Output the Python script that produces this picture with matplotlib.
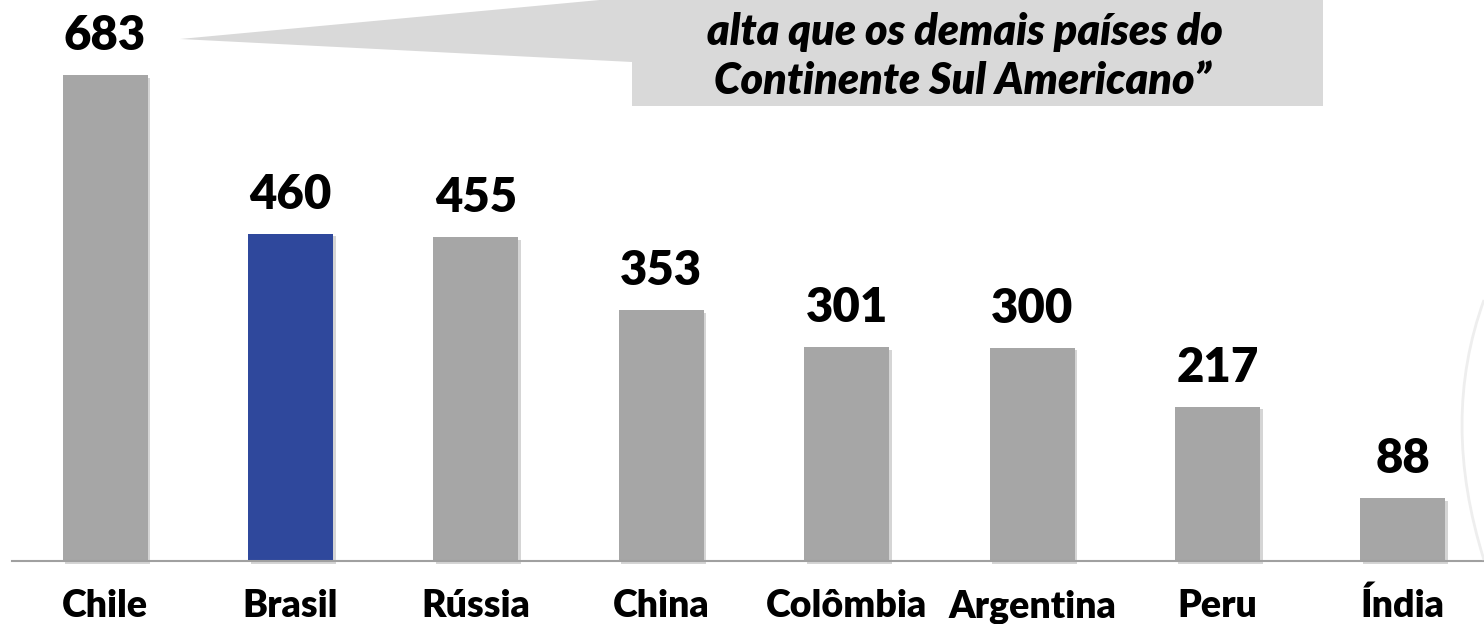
import matplotlib
matplotlib.use("Agg")
import matplotlib.pyplot as plt
from matplotlib.patches import Polygon, PathPatch
from matplotlib.path import Path
import matplotlib.patheffects as pe

categories = ["Chile", "Brasil", "Rússia", "China", "Colômbia", "Argentina", "Peru", "Índia"]
values = [683, 460, 455, 353, 301, 300, 217, 88]
highlight = "Brasil"
callout_lines = ["alta que os demais países do", "Continente Sul Americano”"]

W, H = 1484, 624
fig = plt.figure(figsize=(W / 100, H / 100), dpi=100)
ax = fig.add_axes([0, 0, 1, 1])

base_px = 63           # baseline from bottom, px
scale = 486 / 683      # px per unit
spacing = 185.4
x0 = 105
ax.set_ylim(-base_px / scale, (H - base_px) / scale)
ax.set_xlim(-x0 / spacing, (W - x0) / spacing)
ax.axis("off")

colors = ["#2F489C" if c == highlight else "#A6A6A6" for c in categories]
xs = list(range(len(categories)))
bars = ax.bar(xs, values, width=85 / spacing, color=colors, zorder=3)
for b in bars:
    b.set_path_effects([pe.SimplePatchShadow(offset=(2, -2), shadow_rgbFace="#777777", alpha=0.3),
                        pe.Normal()])

# baseline
ax.plot([(12 - x0) / spacing, (W - x0) / spacing], [0, 0], color="#A0A0A0", lw=1.5, zorder=4)

font = "Lato"
wt = "heavy"
for x, v in zip(xs, values):
    ax.annotate(str(v), (x, v), xytext=(0, 18), textcoords="offset points",
                ha="center", va="baseline", fontsize=34, fontweight=wt,
                family=font, color="black")
for x, c in zip(xs, categories):
    ax.text(x, (7 - base_px) / scale, c, ha="center", va="baseline",
            fontsize=27, fontweight=wt, family=font, color="black")

def fp(x, y):
    return (x / W, 1 - y / H)

# callout
pts = [fp(180, 39), fp(632, -3), fp(1323, -3), fp(1323, 106), fp(632, 106), fp(632, 62)]
poly = Polygon(pts, closed=True, transform=fig.transFigure, facecolor="#D9D9D9",
               edgecolor="none", zorder=1)
fig.patches.append(poly)
fig.text(*fp(965, 45), callout_lines[0], ha="center", va="baseline", fontsize=31,
         fontweight=wt, style="italic", family=font, color="black")
fig.text(*fp(962, 94), callout_lines[1], ha="center", va="baseline", fontsize=31,
         fontweight=wt, style="italic", family=font, color="black")

# faint decorative arc at right edge
verts = [fp(1484, 300), fp(1440, 420), fp(1484, 560)]
arc = PathPatch(Path(verts, [Path.MOVETO, Path.CURVE3, Path.CURVE3]),
                transform=fig.transFigure, facecolor="none", edgecolor="#EEEEEE", lw=2)
fig.patches.append(arc)

fig.savefig("out.png", dpi=100)
